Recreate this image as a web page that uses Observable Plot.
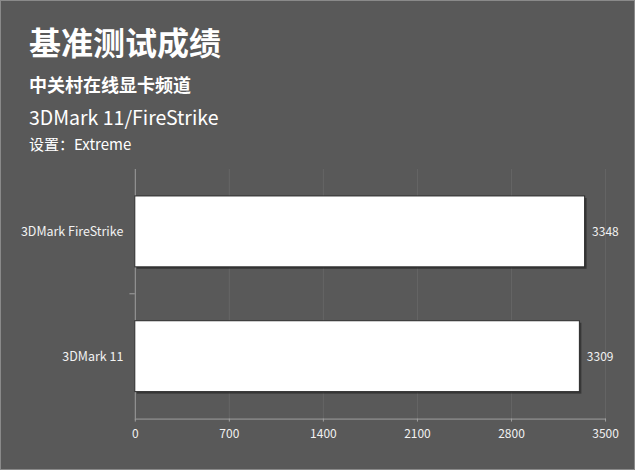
<!DOCTYPE html>
<html><head><meta charset="utf-8">
<script src="https://cdn.jsdelivr.net/npm/d3@7"></script>
<script src="https://cdn.jsdelivr.net/npm/@observablehq/plot@0.6"></script>
<style>
html,body{margin:0;padding:0;}
body{width:635px;height:470px;overflow:hidden;}
#wrap{position:relative;width:633px;height:468px;background:#595959;border:1px solid #8a8a8a;font-family:"Noto Sans CJK SC","Noto Sans",sans-serif;color:#fff;}
.t{position:absolute;left:28px;white-space:nowrap;}
#t1{top:17px;font-size:32px;font-weight:bold;}
#t2{top:70px;font-size:18px;font-weight:bold;}
#t3{top:101px;font-size:19.5px;}
#t4{top:132px;font-size:15px;}
#chart{position:absolute;left:-1px;top:159px;}
</style></head>
<body><div id="wrap">
<div class="t" id="t1">基准测试成绩</div>
<div class="t" id="t2">中关村在线显卡频道</div>
<div class="t" id="t3">3DMark 11/FireStrike</div>
<div class="t" id="t4">设置：Extreme</div>
<div id="chart"></div>
</div>
<script>
const categories = ["3DMark FireStrike", "3DMark 11"];
const values = [3348, 3309];
const xTicks = [0, 700, 1400, 2100, 2800, 3500];

const data = categories.map((c, i) => ({name: c, value: values[i]}));
const font = "'Noto Sans CJK SC','Noto Sans',sans-serif";

const plot = Plot.plot({
  width: 635,
  height: 311,
  marginLeft: 135,
  marginRight: 29,
  marginTop: 9,
  marginBottom: 52,
  style: {background: "transparent", color: "#f2f2f2", fontFamily: font, fontSize: "12px"},
  x: {domain: [0, 3500], label: null},
  y: {domain: categories, paddingInner: 0.43, paddingOuter: 0.21, label: null},
  marks: [
    Plot.gridX(xTicks.slice(1), {stroke: "#656565", strokeOpacity: 1}),
    Plot.axisX({ticks: xTicks, tickFormat: d => String(d), tickSize: 3, stroke: "#a0a0a0", tickPadding: 7, fill: "#f2f2f2", fontSize: 12}),
    Plot.axisY({tickSize: 0, tickPadding: 12, fill: "#f2f2f2", fontSize: 12.5}),
    Plot.frame({anchor: "bottom", stroke: "#a0a0a0"}),
    Plot.ruleX([0], {stroke: "#a0a0a0"}),
    Plot.ruleY(["3DMark 11"], {x1: -40, x2: 0, dy: -63, stroke: "#a0a0a0"}),
    Plot.barX(data, {y: "name", x: "value", fill: "#222", fillOpacity: 0.6, dx: 2, dy: 2}),
    Plot.barX(data, {y: "name", x: "value", fill: "#ffffff", stroke: "#2a2a2a", strokeWidth: 1}),
    Plot.text(data, {y: "name", x: "value", text: d => String(d.value), textAnchor: "start", dx: 7, fill: "#f2f2f2", fontSize: 12})
  ]
});
document.getElementById("chart").appendChild(plot);
</script>
</body></html>
